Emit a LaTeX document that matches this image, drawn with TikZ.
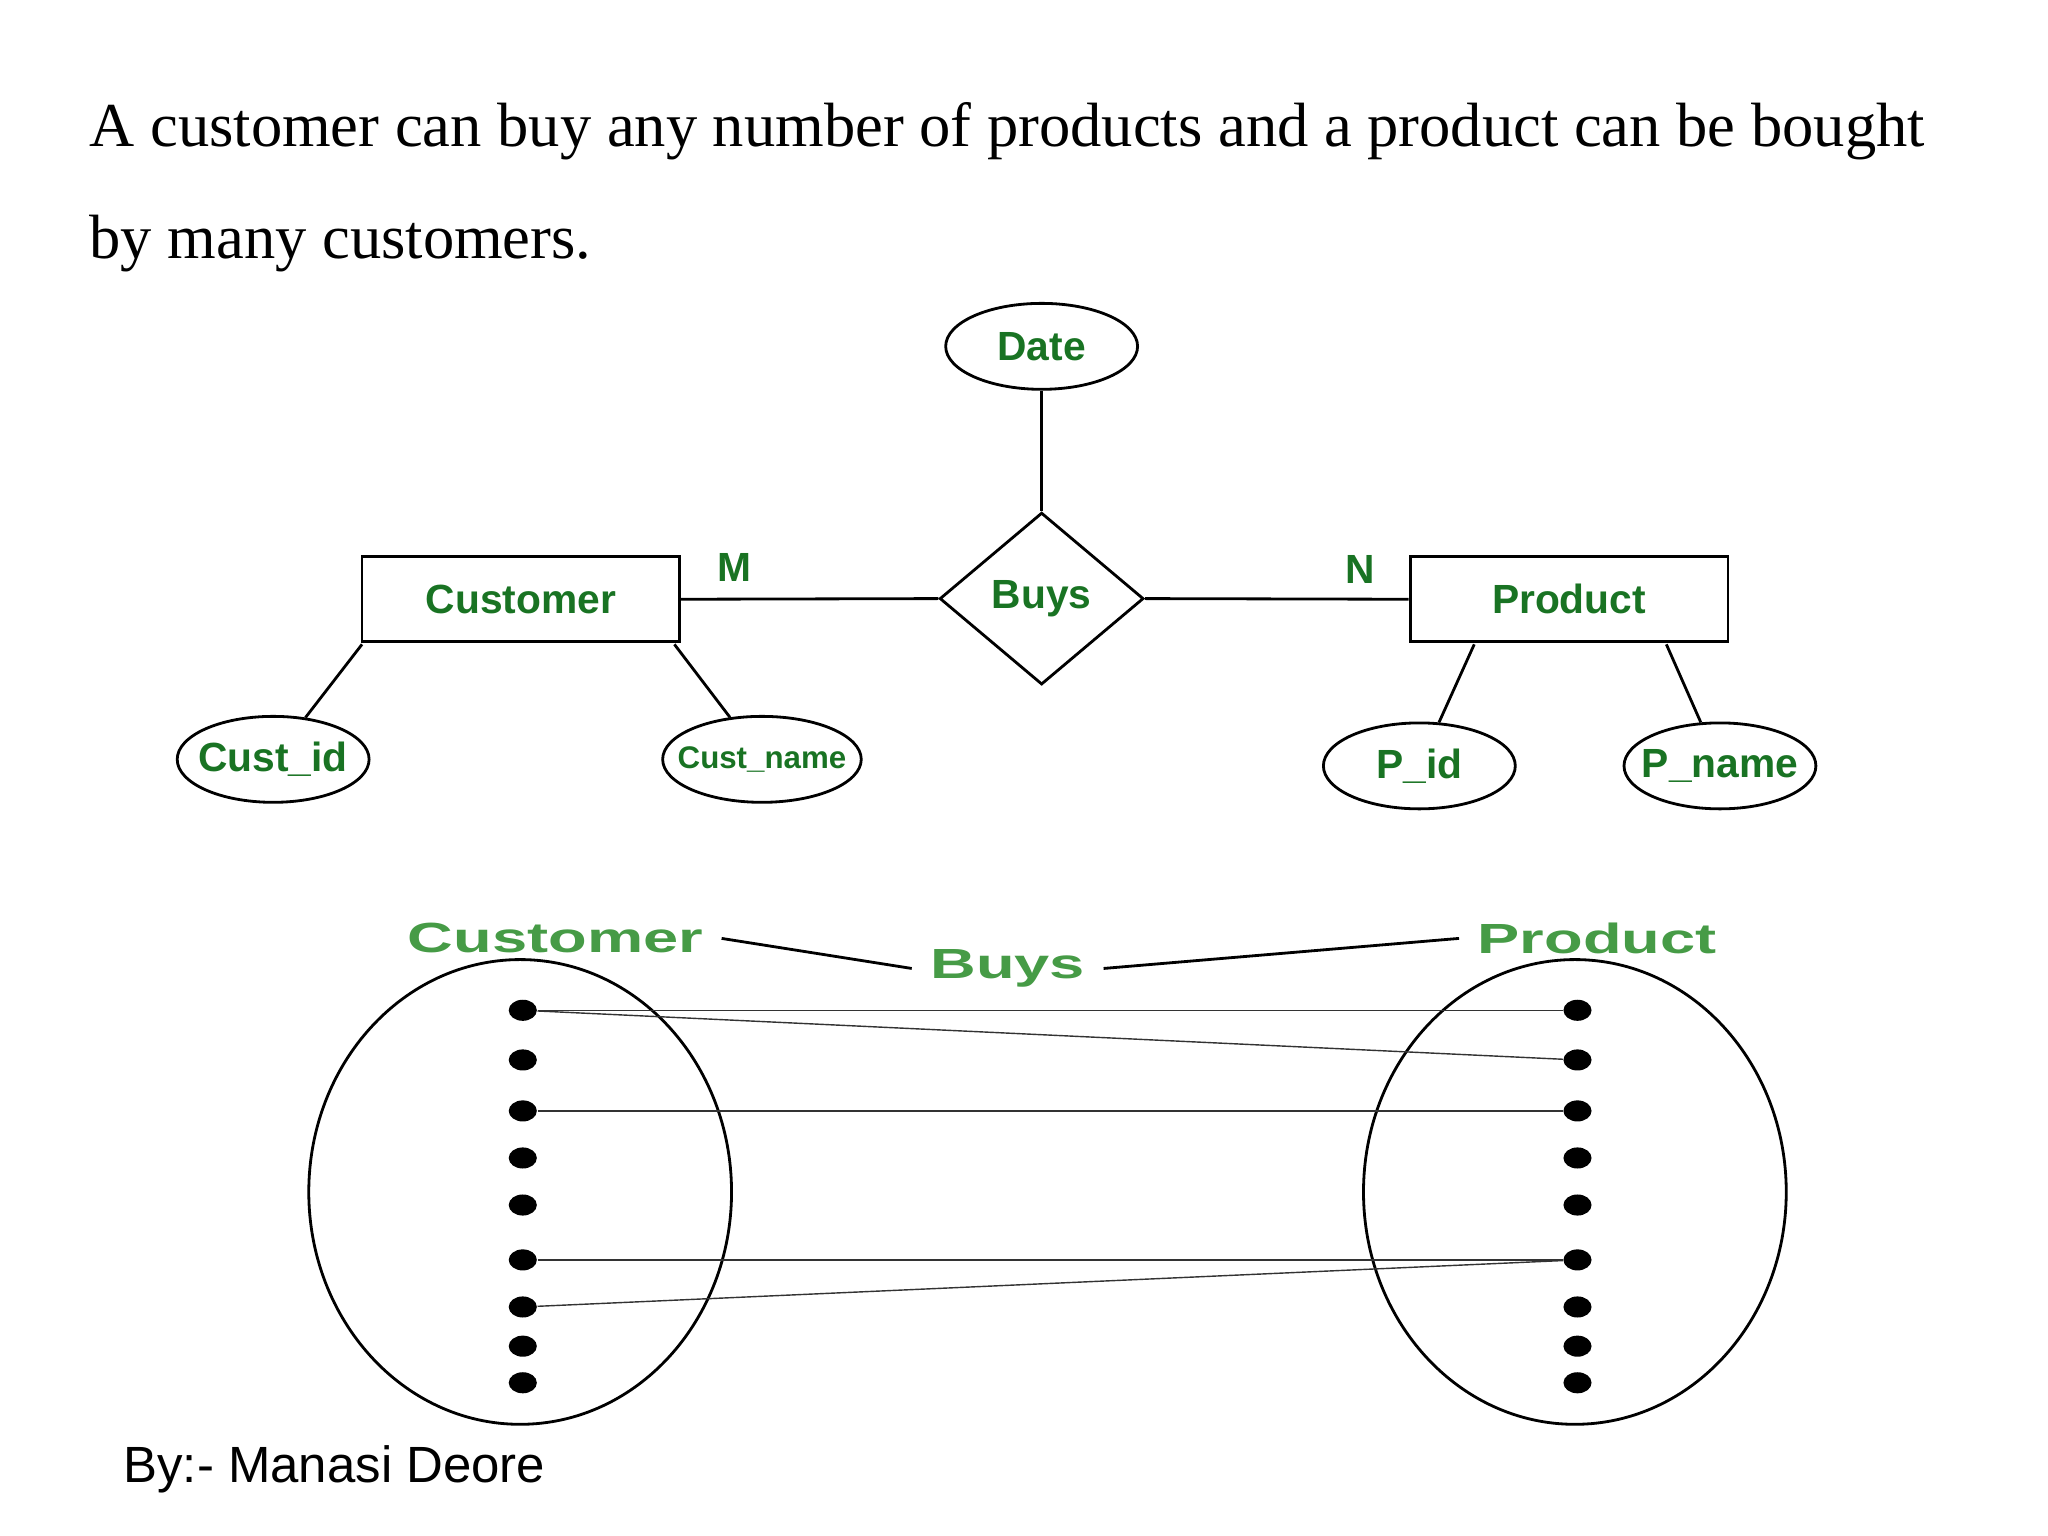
\documentclass[tikz,border=0pt]{standalone}
\usepackage{fontspec}
\setmainfont{Liberation Serif}
\newfontfamily\erfont{Liberation Sans}
\usetikzlibrary{shapes.geometric}
\definecolor{ergreen}{RGB}{25,115,35}
\definecolor{setgreen}{RGB}{70,155,70}
\begin{document}
\begin{tikzpicture}[x=0.01307cm,y=-0.01307cm,
  attr/.style={draw,thick,ellipse,minimum width=1.92cm,minimum height=0.86cm,inner ysep=0pt,inner xsep=-4pt},
  ent/.style={draw,thick,rectangle,inner sep=0pt,minimum width=3.18cm,minimum height=0.85cm},
  lbl/.style={font=\erfont\fontsize{11.6}{12}\selectfont\bfseries,text=ergreen},
  setlbl/.style={font=\erfont\fontsize{12}{13}\selectfont\bfseries,text=setgreen,xscale=1.5},
  dot/.style={fill,ellipse,minimum width=8pt,minimum height=6pt,inner sep=0pt},
  conn/.style={thick},
  map/.style={line width=0.4pt,black!80}
  ]
  \useasboundingbox (0,0) rectangle (1567,1175);
  % heading
  \node[anchor=base west,inner sep=0pt,font=\fontsize{17.8}{20}\selectfont] (t1) at (68,112) {A customer can buy any number of products and a product can be bought};
  \node[anchor=base west,inner sep=0pt,font=\fontsize{17.8}{20}\selectfont] (t2) at (68,198) {by many customers.};
  % ER diagram
  \node[attr,lbl] (date) at (797,265) {Date};
  \node[ent,lbl] (cust) at (398.5,458.5) {Customer};
  \node[ent,lbl] (prod) at (1200.5,458.5) {Product};
  \node[draw,thick,diamond,minimum width=2.04cm,minimum height=1.72cm,inner sep=0pt,lbl] (buys) at (797,458) {Buys};
  \node[attr,lbl] (cid) at (209,581) {Cust\_id};
  \node[attr,lbl,font=\erfont\fontsize{8.9}{10}\selectfont\bfseries] (cname) at (583,581) {Cust\_name};
  \node[attr,lbl] (pid) at (1086,586) {P\_id};
  \node[attr,lbl] (pname) at (1316,586) {P\_name};
  \node[lbl] (m) at (562,434) {M};
  \node[lbl] (n) at (1041,436) {N};
  \coordinate (c1) at (277,493); \coordinate (c2) at (516,493);
  \coordinate (p1) at (1128,493); \coordinate (p2) at (1275,493);
  \draw[conn] (date) -- (buys.north);
  \draw[conn] (cust.east) -- (buys.west);
  \draw[conn] (buys.east) -- (prod.west);
  \draw[conn] (c1) -- (cid);
  \draw[conn] (c2) -- (cname);
  \draw[conn] (p1) -- (pid);
  \draw[conn] (p2) -- (pname);
  % set diagram
  \node[setlbl] (sc) at (425,718) {Customer};
  \node[setlbl] (sb) at (771,741) {Buys};
  \node[setlbl] (sp) at (1222,718) {Product};
  \draw[thick] (sc.east) -- (sb.west);
  \draw[thick] (sb.east) -- (sp.west);
  \node[draw,thick,ellipse,minimum width=4.23cm,minimum height=4.65cm] (setc) at (398,912) {};
  \node[draw,thick,ellipse,minimum width=4.23cm,minimum height=4.65cm] (setp) at (1205,912) {};
  \foreach \i/\y in {1/773,2/811,3/850,4/886,5/922,6/964,7/1000,8/1030,9/1058} {
    \node[dot] (l\i) at (400,\y) {};
    \node[dot] (r\i) at (1207,\y) {};
  }
  \draw[map] (l1) -- (r1);
  \draw[map] (l1) -- (r2);
  \draw[map] (l3) -- (r3);
  \draw[map] (l6) -- (r6);
  \draw[map] (l7) -- (r6);
  \node[anchor=base west,inner sep=0pt,font=\erfont\fontsize{14.5}{16}\selectfont] (by) at (94,1134) {By:- Manasi Deore};
\end{tikzpicture}
\end{document}
